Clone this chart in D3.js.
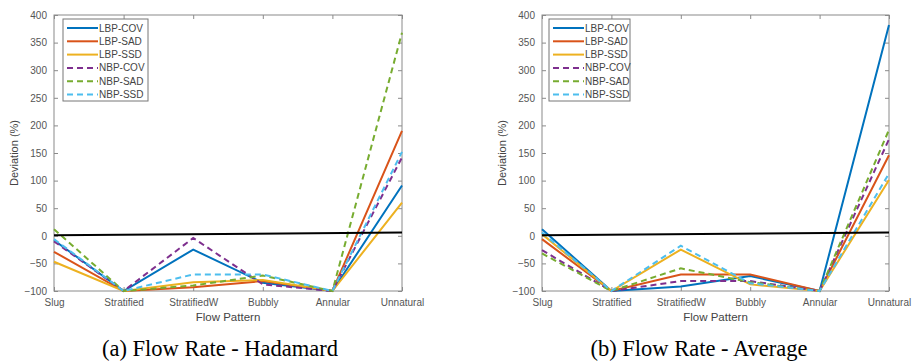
<!DOCTYPE html>
<html><head><meta charset="utf-8">
<script src="https://cdn.jsdelivr.net/npm/d3@7"></script>
<style>body{margin:0;background:#fff}svg{display:block}</style>
</head><body><svg id="c" width="913" height="363"></svg>
<script>
const categories = ["Slug","Stratified","StratifiedW","Bubbly","Annular","Unnatural"];
const seriesNames = ["LBP-COV","LBP-SAD","LBP-SSD","NBP-COV","NBP-SAD","NBP-SSD"];
const seriesColors = ["#0072BD","#D95319","#EDB120","#7E2F8E","#77AC30","#4DBEEE"];
const seriesDashed = [false,false,false,true,true,true];
const yTicks = [-100,-50,0,50,100,150,200,250,300,350,400];
const hadamardValues = [
  [-8, -100, -25, -85, -100, 91],
  [-29, -100, -93, -82, -100, 190],
  [-47, -100, -84, -80, -100, 60],
  [-10, -100, -4, -88, -100, 142],
  [12, -100, -90, -72, -100, 368],
  [-6, -100, -70, -70, -100, 152]
];
const averageValues = [
  [12, -100, -92, -73, -100, 382],
  [-6, -100, -70, -70, -100, 146],
  [3, -100, -25, -88, -100, 101],
  [-26, -100, -82, -82, -100, 175],
  [-32, -100, -59, -84, -100, 192],
  [6, -100, -18, -86, -100, 113]
];
const referenceLine = [1, 6];
const captions = ["(a) Flow Rate - Hadamard","(b) Flow Rate - Average"];

const svg = d3.select("#c");
const font = "'Liberation Sans', Arial, sans-serif";

function panel(x0, x1, values, caption, captionX, legendX, legendW) {
  const y0 = 15, y1 = 291;
  const x = d3.scalePoint().domain(categories).range([x0, x1]);
  const y = d3.scaleLinear().domain([-100, 400]).range([y1, y0]);
  const g = svg.append("g");
  g.append("rect").attr("x", x0).attr("y", y0).attr("width", x1-x0).attr("height", y1-y0)
    .attr("fill", "#fff").attr("stroke", "#8a8a8a").attr("stroke-width", 1);
  const ya = g.append("g").attr("transform", `translate(${x0},0)`)
    .call(d3.axisLeft(y).tickValues(yTicks).tickSize(-4).tickPadding(7));
  ya.select(".domain").remove();
  ya.selectAll("line").attr("stroke", "#8a8a8a");
  ya.selectAll("text").attr("fill", "#555").style("font-family", font).style("font-size", "10px");
  const yr = g.append("g").attr("transform", `translate(${x1},0)`)
    .call(d3.axisRight(y).tickValues(yTicks).tickSize(-4).tickFormat(""));
  yr.select(".domain").remove(); yr.selectAll("line").attr("stroke", "#8a8a8a");
  const xa = g.append("g").attr("transform", `translate(0,${y1})`)
    .call(d3.axisBottom(x).tickSize(-4).tickPadding(8));
  xa.select(".domain").remove();
  xa.selectAll("line").attr("stroke", "#8a8a8a");
  xa.selectAll("text").attr("fill", "#555").style("font-family", font).style("font-size", "10px");
  const xt = g.append("g").attr("transform", `translate(0,${y0})`)
    .call(d3.axisTop(x).tickSize(-4).tickFormat(""));
  xt.select(".domain").remove(); xt.selectAll("line").attr("stroke", "#8a8a8a");
  g.append("text").attr("transform", `translate(${x0-36},${(y0+y1)/2}) rotate(-90)`)
    .attr("text-anchor", "middle").attr("fill", "#444").style("font-family", font).style("font-size", "11px")
    .text("Deviation (%)");
  g.append("text").attr("x", (x0+x1)/2).attr("y", 321).attr("text-anchor", "middle")
    .attr("fill", "#444").style("font-family", font).style("font-size", "11.5px").text("Flow Pattern");
  g.append("text").attr("x", captionX).attr("y", 356).attr("text-anchor", "middle")
    .attr("fill", "#000").style("font-family", "'Liberation Serif', 'Times New Roman', serif").style("font-size", "22.5px")
    .text(caption);
  const line = d3.line().x((d, i) => x(categories[i])).y(d => y(d));
  values.forEach((vals, k) => {
    g.append("path").datum(vals).attr("d", line).attr("fill", "none")
      .attr("stroke", seriesColors[k]).attr("stroke-width", 2)
      .attr("stroke-dasharray", seriesDashed[k] ? "6,4" : null);
  });
  g.append("path").datum(referenceLine)
    .attr("d", d3.line().x((d, i) => i === 0 ? x(categories[0]) : x(categories[categories.length-1])).y(d => y(d)))
    .attr("stroke", "#000").attr("stroke-width", 2).attr("fill", "none");
  const ly0 = 19, rowH = 13.3;
  const lg = g.append("g");
  lg.append("rect").attr("x", legendX).attr("y", ly0).attr("width", legendW).attr("height", 82)
    .attr("fill", "#fff").attr("stroke", "#777").attr("stroke-width", 1);
  seriesNames.forEach((n, k) => {
    const yy = ly0 + 9 + k * rowH;
    lg.append("line").attr("x1", legendX + 4).attr("x2", legendX + 35).attr("y1", yy).attr("y2", yy)
      .attr("stroke", seriesColors[k]).attr("stroke-width", 2)
      .attr("stroke-dasharray", seriesDashed[k] ? "6,4" : null);
    lg.append("text").attr("x", legendX + 36).attr("y", yy + 3.5).attr("fill", "#444")
      .style("font-family", font).style("font-size", "10px").text(n);
  });
}

panel(54, 402, hadamardValues, captions[0], 220, 63, 85);
panel(542, 889, averageValues, captions[1], 699, 549, 81);
</script></body></html>
